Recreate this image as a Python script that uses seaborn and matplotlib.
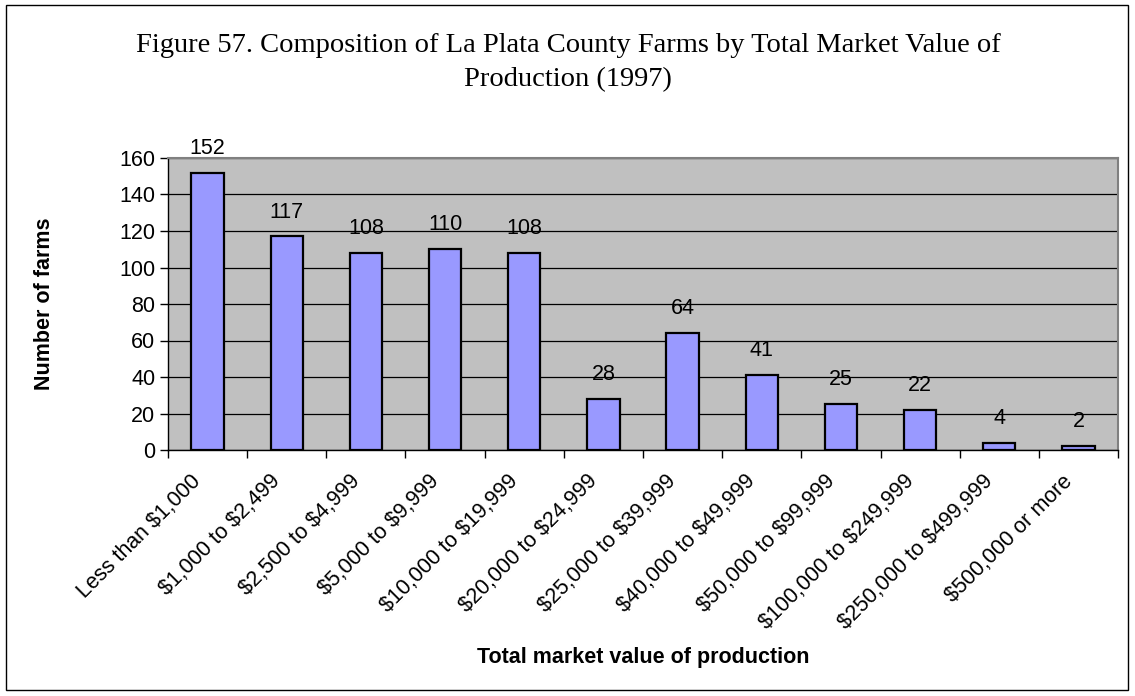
import matplotlib
matplotlib.use("Agg")
import matplotlib.pyplot as plt
import matplotlib.transforms as mtrans
import seaborn as sns
import pandas as pd
from matplotlib.patches import Rectangle

categories = ["Less than $1,000", "$1,000 to $2,499", "$2,500 to $4,999", "$5,000 to $9,999",
              "$10,000 to $19,999", "$20,000 to $24,999", "$25,000 to $39,999", "$40,000 to $49,999",
              "$50,000 to $99,999", "$100,000 to $249,999", "$250,000 to $499,999", "$500,000 or more"]
farms = [152, 117, 108, 110, 108, 28, 64, 41, 25, 22, 4, 2]
yticks = [0, 20, 40, 60, 80, 100, 120, 140, 160]

sns.set_theme(style="white")
plt.rcParams['font.family'] = ['Liberation Sans', 'DejaVu Sans']
plt.rcParams['text.parse_math'] = False
plt.rcParams['text.color'] = 'black'
plt.rcParams['axes.labelcolor'] = 'black'
plt.rcParams['xtick.color'] = 'black'
plt.rcParams['ytick.color'] = 'black'

df = pd.DataFrame({"cat": categories, "farms": farms})

FS = 15.5
fig = plt.figure(figsize=(11.35, 6.96), dpi=100)
ax = fig.add_axes([168/1135, 1-450/696, (1118-168)/1135, (450-158)/696])
sns.barplot(data=df, x="cat", y="farms", color="#9999FF", saturation=1, width=0.41,
            edgecolor="black", linewidth=1.6, ax=ax, zorder=3)
ax.set_facecolor("#C0C0C0")
ax.set_ylim(0, 160)
ax.set_xlim(-0.5, len(categories) - 0.5)
ax.set_yticks(yticks)
ax.yaxis.grid(True, color="black", linewidth=0.9, zorder=0)
ax.set_axisbelow(True)
for s in ["top", "right"]:
    ax.spines[s].set_color("#808080")
    ax.spines[s].set_linewidth(1.5)
for s in ["left", "bottom"]:
    ax.spines[s].set_color("black")
    ax.spines[s].set_linewidth(1.0)
ax.set_xticks([i - 0.5 for i in range(len(categories) + 1)], minor=True)
ax.tick_params(axis="x", which="minor", length=6, width=1, color="black", direction="out", bottom=True)
ax.tick_params(axis="x", which="major", length=0, labelsize=FS, pad=15, labelcolor="black")
ax.tick_params(axis="y", which="major", length=6, width=1, color="black", direction="out", left=True,
               labelsize=FS, pad=3, labelcolor="black")
ax.set_xticks(range(len(categories)))
ax.set_xticklabels(categories, rotation=45, ha="right", va="top")
for t in ax.get_xticklabels():
    t.set_transform(t.get_transform() + mtrans.ScaledTranslation(-0.02, 0, fig.dpi_scale_trans))

for i, v in enumerate(farms):
    ax.annotate(str(v), (i, v), xytext=(0, 10), textcoords="offset points",
                ha="center", va="bottom", fontsize=FS, color="black")

ax.set_xlabel("Total market value of production", fontsize=FS, fontweight="bold", color="black")
ax.set_ylabel("Number of farms", fontsize=FS, fontweight="bold", color="black")
ax.xaxis.label.set_va("center")
ax.yaxis.label.set_va("center")
ax.xaxis.set_label_coords(0.5, -207/292)
ax.yaxis.set_label_coords((45-168)/950, 0.5)

fig.text(568/1135, 1-45/696, "Figure 57. Composition of La Plata County Farms by Total Market Value of",
         ha="center", va="center", fontsize=20.5, family="Liberation Serif", color="black")
fig.text(568/1135, 1-80/696, "Production (1997)",
         ha="center", va="center", fontsize=20.5, family="Liberation Serif", color="black")

fig.patches.append(Rectangle((6/1135, 1-690/696), 1122/1135, 685/696, transform=fig.transFigure,
                             fill=False, edgecolor="black", linewidth=1))
fig.savefig("out.png", dpi=100, facecolor="white")
